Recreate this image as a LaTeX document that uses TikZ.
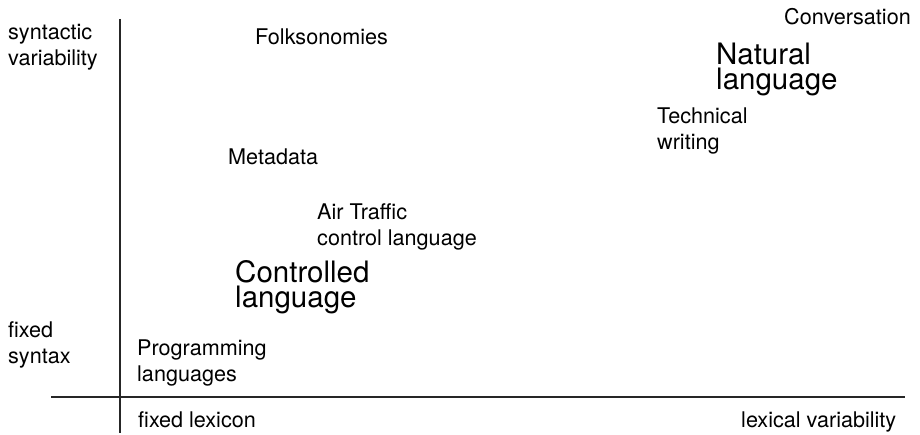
\documentclass[tikz,border=0pt]{standalone}
\usepackage{fontspec}
\setmainfont{TeX Gyre Heros}
\begin{document}
\begin{tikzpicture}[x=1pt,y=-1pt,
  axis/.style={line width=1.1pt,draw=black!85},
  lbl/.style={anchor=base west,inner sep=0pt,align=left,
    font=\fontsize{21.6}{26}\selectfont},
  biglbl/.style={anchor=base west,inner sep=0pt,align=left,
    font=\fontsize{29.5}{25}\selectfont}]
\useasboundingbox (0,0) rectangle (920,435);
% axes
\coordinate (vtop) at (120,19);
\coordinate (vbot) at (120,433);
\coordinate (hleft) at (51,397);
\coordinate (hright) at (905,397);
\draw[axis] (vtop) -- (vbot);
\draw[axis] (hleft) -- (hright);
% axis labels (multi-line nodes sit on the baseline of their last line)
\node[lbl] (synvar) at (8,66) {syntactic\\variability};
\node[lbl] (fixsyn) at (8,363) {fixed\\syntax};
\node[lbl] (fixlex) at (138,427) {fixed lexicon};
\node[lbl] (lexvar) at (741,427) {lexical variability};
% languages
\node[lbl] (folk) at (255,45) {Folksonomies};
\node[lbl] (meta) at (228,165) {Metadata};
\node[lbl] (atc) at (317,246) {Air Traffic\\control language};
\node[biglbl] (ctrl) at (235,308) {Controlled\\language};
\node[lbl] (prog) at (137,381) {Programming\\languages};
\node[lbl] (tech) at (657,150) {Technical\\writing};
\node[biglbl] (nat) at (716,90) {Natural\\language};
\node[lbl] (conv) at (784,25) {Conversation};
\end{tikzpicture}
\end{document}
